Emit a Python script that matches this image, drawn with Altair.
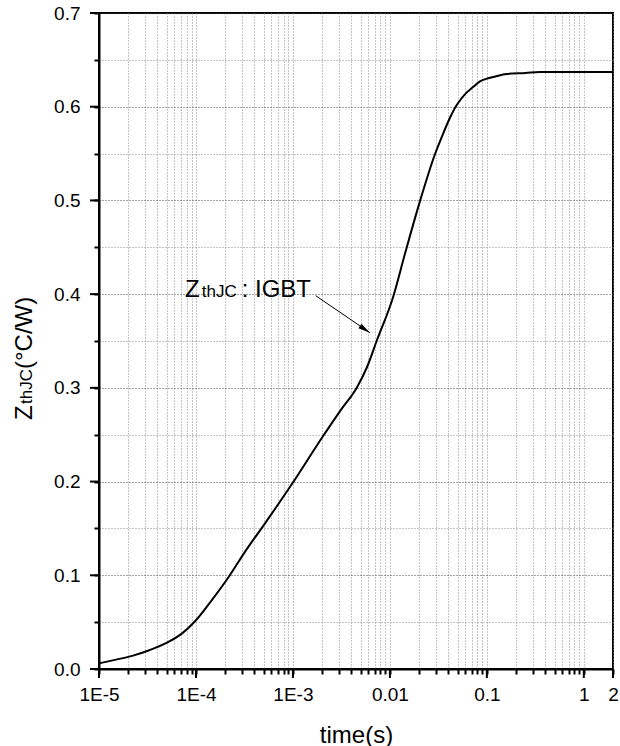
import altair as alt
import pandas as pd

# --- data ---
time_s = [1e-5, 1.5e-5, 2.2e-5, 3.3e-5, 4.9e-5, 7.2e-5, 1e-4, 1.47e-4, 2.2e-4,
          3.25e-4, 5.2e-4, 1e-3, 2e-3, 3.1e-3, 4.6e-3, 5.8e-3, 7.3e-3, 0.0108, 0.0143,
          0.0204, 0.0291, 0.035, 0.042, 0.047, 0.054, 0.0617, 0.072, 0.085,
          0.1, 0.12, 0.16, 0.25, 0.35, 0.6, 1.0, 2.0]
zth = [0.006, 0.010, 0.014, 0.020, 0.0275, 0.038, 0.052, 0.074, 0.099,
       0.126, 0.156, 0.199, 0.247, 0.276, 0.301, 0.322, 0.350, 0.397, 0.443,
       0.499, 0.549, 0.570, 0.589, 0.599, 0.608, 0.615, 0.621, 0.627,
       0.630, 0.632, 0.635, 0.636, 0.637, 0.637, 0.637, 0.637]

x_label_values = [1e-5, 1e-4, 1e-3, 0.01, 0.1, 1, 2]
x_label_text = ["1E-5", "1E-4", "1E-3", "0.01", "0.1", "1", "2"]
x_tick_values = [m * 10.0 ** e for e in range(-5, 0) for m in range(1, 10)] + [1.0, 2.0]
y_tick_values = [round(i * 0.05, 2) for i in range(15)]
y_major_values = [round(i * 0.1, 1) for i in range(8)]

# annotation (data coordinates)
ann_text_x = [7.7e-5, 1.15e-4, 2.96e-4]
ann_text_y = 0.397
ann_start = (1.714e-3, 0.3984)
ann_end = (6.22e-3, 0.3589)

FONT = "Liberation Sans"
W, H = 514, 656

df = pd.DataFrame({"t": time_s, "z": zth})

def is_label(v):
    return f"abs(datum.value/{v}-1)<1e-6"

x_label_expr = ""
for v, s in zip(x_label_values, x_label_text):
    x_label_expr += f"{is_label(v)} ? '{s}' : "
x_label_expr += "''"

y_major_test = "abs(datum.value*10-round(datum.value*10))<1e-6"

x_scale = alt.Scale(type="log", domain=[1e-5, 2], nice=False)
y_scale = alt.Scale(domain=[0, 0.7], nice=False, zero=False)

x_axis = alt.Axis(
    values=x_tick_values, labelExpr=x_label_expr, title="time(s)",
    labelFlush=False, labelOverlap=False, labelBound=False,
    tickSize=5, tickColor="black", tickWidth=2,
    labelPadding=11, titlePadding=19,
    gridDash=[1, 2], gridColor="#8a8a8a", gridWidth=1,
    domainColor="black", domainWidth=2,
)
y_axis = alt.Axis(
    values=y_tick_values, title=None,
    labelExpr=f"{y_major_test} ? format(datum.value, '.1f') : ''",
    labelFlush=False, labelOverlap=False, labelBound=False,
    tickSize=5, tickColor="black", tickWidth=2,
    labelPadding=14,
    gridDash=[1, 2],
    gridColor={"condition": {"test": y_major_test, "value": "#444444"}, "value": "#8a8a8a"},
    gridWidth=1,
    domainColor="black", domainWidth=2,
)

line = alt.Chart(df).mark_line(color="black", strokeWidth=2, interpolate="monotone").encode(
    x=alt.X("t:Q", scale=x_scale, axis=x_axis),
    y=alt.Y("z:Q", scale=y_scale, axis=y_axis),
)

# major ticks (longer) drawn from the same scales
x_major = alt.Chart(pd.DataFrame({"v": x_label_values})).mark_rule(
    color="black", strokeWidth=2).encode(
    x=alt.X("v:Q", scale=x_scale), y=alt.value(H), y2=alt.value(H + 9))
y_major = alt.Chart(pd.DataFrame({"v": y_major_values})).mark_rule(
    color="black", strokeWidth=2).encode(
    y=alt.Y("v:Q", scale=y_scale), x=alt.value(0), x2=alt.value(-9))

# annotation text pieces
ann_df = pd.DataFrame({
    "x": ann_text_x,
    "y": [ann_text_y] * 3,
    "txt": ["Z", "thJC", ": IGBT"],
    "fs": [24, 17, 24],
})
ann = alt.Chart(ann_df).mark_text(align="left", baseline="alphabetic", font=FONT, color="black").encode(
    x=alt.X("x:Q", scale=x_scale),
    y=alt.Y("y:Q", scale=y_scale),
    text="txt:N",
    size=alt.Size("fs:Q", scale=None, legend=None),
)

arrow_df = pd.DataFrame({"x": [ann_start[0]], "y": [ann_start[1]],
                         "x2": [ann_end[0]], "y2": [ann_end[1]]})
arrow_line = alt.Chart(arrow_df).mark_rule(color="black", strokeWidth=1).encode(
    x=alt.X("x:Q", scale=x_scale), y=alt.Y("y:Q", scale=y_scale),
    x2="x2:Q", y2="y2:Q",
)
head_df = pd.DataFrame({"x": [ann_end[0]], "y": [ann_end[1]]})
arrow_head = alt.Chart(head_df).mark_point(
    shape="M0,0 L0.45,2 L-0.45,2 Z", filled=True, color="black", opacity=1,
    size=144, angle=124, strokeWidth=0,
).encode(x=alt.X("x:Q", scale=x_scale), y=alt.Y("y:Q", scale=y_scale))

# y-axis title pieces (rotated), positioned relative to the plot area
def ytitle_piece(txt, fs, px, py):
    return alt.Chart(pd.DataFrame({"txt": [txt]})).mark_text(
        angle=270, align="left", baseline="alphabetic", font=FONT, color="black", fontSize=fs,
    ).encode(x=alt.value(px), y=alt.value(py), text="txt:N")

ytitle = [
    ytitle_piece("Z", 24, -67, 407),
    ytitle_piece("thJC", 17, -67, 391),
    ytitle_piece("(°C/W)", 24, -67, 356),
]

chart = alt.layer(line, x_major, y_major, ann, arrow_line, arrow_head, *ytitle).properties(
    width=W, height=H,
    autosize=alt.AutoSizeParams(type="none"),
    padding={"left": 99, "top": 13, "right": 7, "bottom": 77},
    background="white",
).configure_view(
    stroke="black", strokeWidth=2,
).configure_axis(
    labelFont=FONT, labelFontSize=19, labelColor="black",
    titleFont=FONT, titleFontSize=24, titleFontWeight="normal", titleColor="black",
)

chart.save("out.html", embed_options={"renderer": "svg", "actions": False})
